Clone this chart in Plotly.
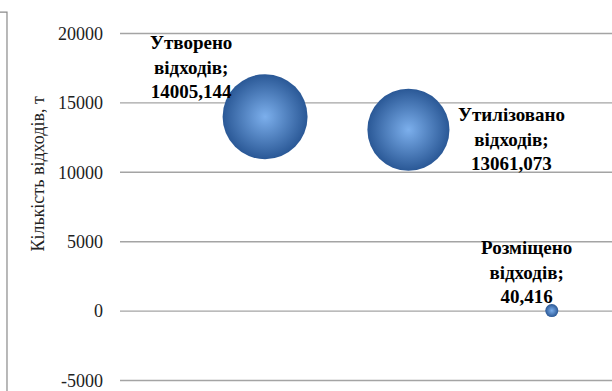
import plotly.graph_objects as go

# Data
categories = ["Утворено відходів", "Утилізовано відходів", "Розміщено відходів"]
label_lines = [["Утворено", "відходів;"], ["Утилізовано", "відходів;"], ["Розміщено", "відходів;"]]
value_text = ["14005,144", "13061,073", "40,416"]
x_pos = [1, 2, 3]
values = [14005.144, 13061.073, 40.416]
y_ticks = [-5000, 0, 5000, 10000, 15000, 20000]
y_title = "Кількість відходів, т"

SERIF = "Liberation Serif"
max_d = 85
sizeref = 2 * max(values) / (max_d ** 2)

fig = go.Figure()

# horizontal gridlines at the tick values
for t in y_ticks:
    fig.add_shape(type="line", xref="paper", yref="y", x0=0, x1=1, y0=t, y1=t,
                  line=dict(color="#a4a4a4", width=1.4), layer="between")

fig.add_trace(go.Scatter(
    x=x_pos, y=values, mode="markers",
    marker=dict(size=values, sizemode="area", sizeref=sizeref, sizemin=6.5,
                color="#2a5896",
                gradient=dict(type="radial", color="#7cafec"),
                line=dict(width=0), opacity=1),
    hoverinfo="skip", showlegend=False, cliponaxis=False,
))

label_font = dict(family=SERIF, size=19, color="#000000")
shifts = [(-74, 50), (103, -9), (-25, 39)]
for i in range(len(values)):
    fig.add_annotation(
        x=x_pos[i], y=values[i], xref="x", yref="y",
        text="<b>" + "<br>".join(label_lines[i] + [value_text[i]]) + "</b>",
        showarrow=False, align="center", font=label_font,
        xanchor="center", yanchor="middle",
        xshift=shifts[i][0], yshift=shifts[i][1],
    )

fig.add_annotation(
    x=-0.1667, y=0.586, xref="paper", yref="paper", text=y_title, textangle=-90,
    xanchor="center", yanchor="middle",
    showarrow=False, font=dict(family=SERIF, size=18, color="#222222"),
)

# frame corner at left
fig.add_shape(type="path", xref="paper", yref="paper",
              path="M -0.26,1.0359 L -0.2297,1.0359 L -0.2297,-0.05",
              line=dict(color="#8a8a8a", width=1.2))

fig.update_layout(
    width=612, height=391,
    margin=dict(l=120, r=0, t=25, b=4),
    paper_bgcolor="white", plot_bgcolor="white",
    xaxis=dict(range=[-0.012, 3.42], showgrid=False, zeroline=False, showticklabels=False,
               showline=False, ticks=""),
    yaxis=dict(range=[-5250, 20607.14], tickvals=y_ticks, ticktext=[str(v) for v in y_ticks],
               showgrid=False, zeroline=False,
               showline=False, ticks="", ticklabelstandoff=16, ticklabeloverflow="allow",
               tickfont=dict(family=SERIF, size=18, color="#222222")),
)

fig.write_html("out.html")
